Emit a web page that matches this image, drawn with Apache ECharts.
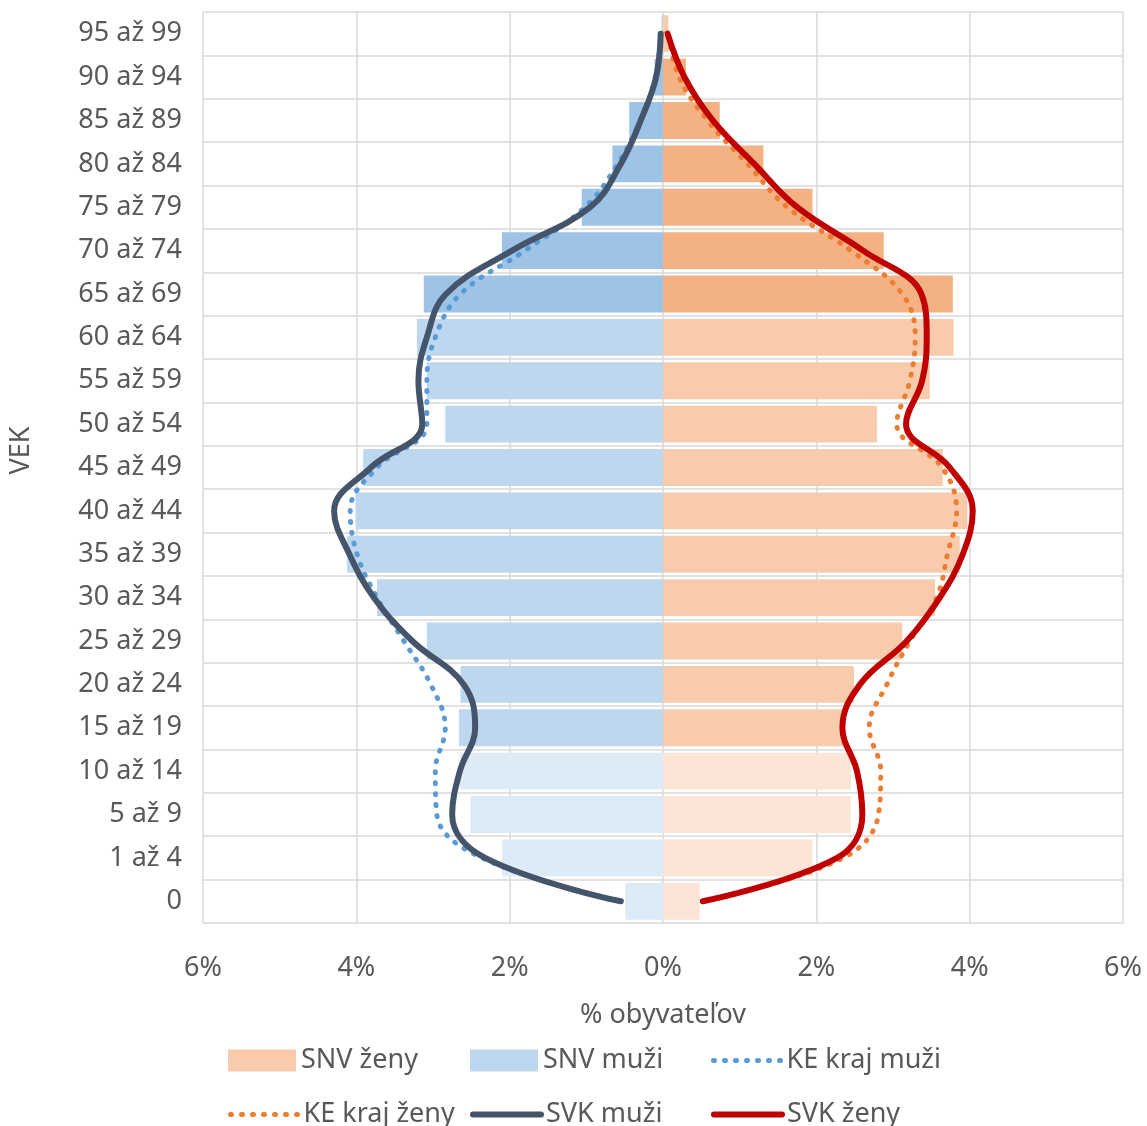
<!DOCTYPE html>
<html>
<head>
<meta charset="utf-8">
<title>Veková pyramída</title>
<script src="https://cdn.jsdelivr.net/npm/echarts@6/dist/echarts.min.js"></script>
<style>
	html, body {
		margin: 0;
		padding: 0;
		background: #ffffff;
	}
	#chart {
		width: 1147px;
		height: 1126px;
	}
</style>
</head>
<body>
<div id="chart"></div>
<script>
	// vekové skupiny zdola nahor
	var categories = ['0', '1 až 4', '5 až 9', '10 až 14', '15 až 19', '20 až 24', '25 až 29', '30 až 34',
		'35 až 39', '40 až 44', '45 až 49', '50 až 54', '55 až 59', '60 až 64', '65 až 69', '70 až 74',
		'75 až 79', '80 až 84', '85 až 89', '90 až 94', '95 až 99'];

	// % obyvateľov
	var snvZeny = [0.48, 1.95, 2.45, 2.45, 2.35, 2.49, 3.12, 3.55, 3.87, 3.97, 3.65, 2.79, 3.48, 3.79, 3.78, 2.88, 1.95, 1.31, 0.74, 0.30, 0.07];
	var snvMuzi = [0.49, 2.10, 2.51, 2.65, 2.66, 2.64, 3.08, 3.73, 4.12, 4.01, 3.91, 2.84, 3.08, 3.21, 3.12, 2.10, 1.06, 0.66, 0.44, 0.11, 0.02];
	var keMuzi = [0.55, 2.36, 2.95, 2.97, 2.84, 3.03, 3.38, 3.73, 3.99, 4.08, 3.73, 3.08, 3.08, 2.97, 2.64, 1.80, 1.02, 0.59, 0.30, 0.10, 0.03];
	var keZeny = [0.52, 2.35, 2.81, 2.84, 2.69, 2.92, 3.22, 3.57, 3.71, 3.83, 3.64, 3.05, 3.22, 3.29, 3.12, 2.45, 1.62, 1.10, 0.58, 0.21, 0.07];
	var svkMuzi = [0.55, 2.32, 2.75, 2.65, 2.45, 2.60, 3.27, 3.77, 4.09, 4.29, 3.81, 3.14, 3.19, 3.08, 2.83, 1.97, 0.95, 0.55, 0.29, 0.09, 0.03];
	var svkZeny = [0.52, 2.27, 2.60, 2.53, 2.34, 2.57, 3.18, 3.61, 3.91, 4.04, 3.74, 3.17, 3.38, 3.44, 3.37, 2.61, 1.75, 1.19, 0.65, 0.28, 0.06];

	var xTicks = [-6, -4, -2, 0, 2, 4, 6];

	var textColor = '#595959';
	var font = "'Noto Sans', 'Open Sans', sans-serif";
	var fontSize = 27;

	var dotted = [1, 10];

	// farba stĺpca podľa vekovej skupiny (deti / produktívni / starší)
	function barColor(light, mid, dark) {
		return function (p) {
			if (p.dataIndex <= 3) return light;
			if (p.dataIndex >= 14 && p.dataIndex <= 19) return dark;
			return mid;
		};
	}

	function neg(arr) {
		return arr.map(function (v) { return -v; });
	}

	// jedna položka legendy na pevnom mieste (legenda v mriežke 3 x 2)
	function legendItem(left, top, item) {
		return {
			left: left,
			top: top,
			itemWidth: 68,
			itemHeight: 22,
			textStyle: { color: textColor, fontSize: fontSize, fontFamily: font },
			data: [item]
		};
	}

	var myChart = echarts.init(document.getElementById('chart'));

	var option = {
		backgroundColor: '#ffffff',
		textStyle: {
			fontFamily: font
		},
		grid: {
			left: 200,
			right: 24,
			top: 12,
			bottom: 203
		},
		legend: [
			legendItem(223, 1042, { name: 'SNV ženy', icon: 'rect', itemStyle: { color: '#f8cbad' } }),
			legendItem(465, 1042, { name: 'SNV muži', icon: 'rect', itemStyle: { color: '#bdd7ee' } }),
			legendItem(706, 1042, { name: 'KE kraj muži', itemStyle: { opacity: 0 },
				lineStyle: { color: '#5b9bd5', width: 5, type: dotted, cap: 'round' } }),
			legendItem(223, 1096, { name: 'KE kraj ženy', itemStyle: { opacity: 0 },
				lineStyle: { color: '#ed7d31', width: 5, type: dotted, cap: 'round' } }),
			legendItem(465, 1096, { name: 'SVK muži', itemStyle: { opacity: 0 },
				lineStyle: { color: '#44546a', width: 6, cap: 'round' } }),
			legendItem(706, 1096, { name: 'SVK ženy', itemStyle: { opacity: 0 },
				lineStyle: { color: '#c00000', width: 6, cap: 'round' } })
		],
		xAxis: {
			type: 'value',
			min: xTicks[0],
			max: xTicks[xTicks.length - 1],
			interval: 2,
			name: '% obyvateľov',
			nameLocation: 'middle',
			nameGap: 79,
			nameTextStyle: { color: textColor, fontSize: fontSize, fontFamily: font },
			axisLine: { show: false },
			axisTick: { show: false },
			axisLabel: {
				color: textColor,
				fontSize: fontSize,
				fontFamily: font,
				margin: 32,
				formatter: function (v) { return Math.abs(v) + '%'; }
			},
			splitLine: { lineStyle: { color: '#d9d9d9', width: 1.5 } }
		},
		yAxis: {
			type: 'category',
			data: categories,
			name: 'VEK',
			nameLocation: 'middle',
			nameGap: 168,
			nameTextStyle: { color: textColor, fontSize: fontSize, fontFamily: font, padding: [0, 0, 0, 34] },
			axisLine: { show: false },
			axisTick: { show: false },
			axisLabel: { color: textColor, fontSize: fontSize, fontFamily: font, margin: 21 },
			splitLine: { show: true, lineStyle: { color: '#d9d9d9', width: 1.5 } }
		},
		series: [{
			name: 'SNV ženy',
			type: 'bar',
			data: snvZeny,
			barGap: '-100%',
			barCategoryGap: '15%',
			itemStyle: { color: barColor('#fbe5d6', '#f8cbad', '#f4b183') },
			z: 2
		}, {
			name: 'SNV muži',
			type: 'bar',
			data: neg(snvMuzi),
			barGap: '-100%',
			barCategoryGap: '15%',
			itemStyle: { color: barColor('#ddebf7', '#bdd7ee', '#9dc3e6') },
			z: 2
		}, {
			name: 'KE kraj muži',
			type: 'line',
			data: neg(keMuzi),
			smooth: 0.4,
			symbol: 'none',
			lineStyle: { color: '#5b9bd5', width: 5, type: dotted, cap: 'round' },
			itemStyle: { color: '#5b9bd5' },
			z: 3
		}, {
			name: 'KE kraj ženy',
			type: 'line',
			data: keZeny,
			smooth: 0.4,
			symbol: 'none',
			lineStyle: { color: '#ed7d31', width: 5, type: dotted, cap: 'round' },
			itemStyle: { color: '#ed7d31' },
			z: 3
		}, {
			name: 'SVK muži',
			type: 'line',
			data: neg(svkMuzi),
			smooth: 0.4,
			symbol: 'none',
			lineStyle: { color: '#44546a', width: 6, cap: 'round' },
			itemStyle: { color: '#44546a' },
			z: 4
		}, {
			name: 'SVK ženy',
			type: 'line',
			data: svkZeny,
			smooth: 0.4,
			symbol: 'none',
			lineStyle: { color: '#c00000', width: 6, cap: 'round' },
			itemStyle: { color: '#c00000' },
			z: 4
		}]
	};

	myChart.setOption(option);
</script>
</body>
</html>
